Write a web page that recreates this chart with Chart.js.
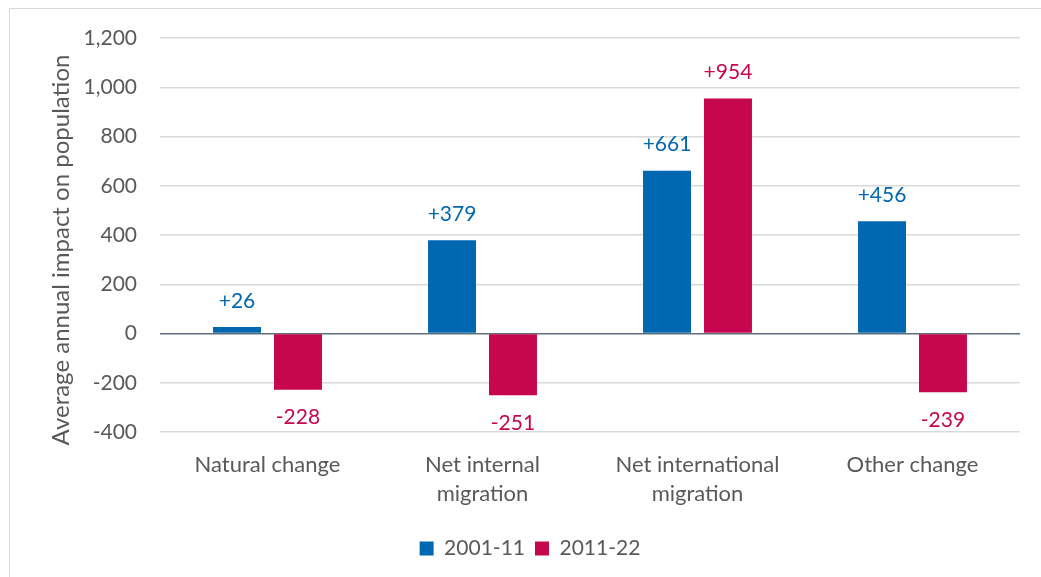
<!DOCTYPE html>
<html>
<head>
<meta charset="utf-8">
<script src="https://cdn.jsdelivr.net/npm/chart.js@4.4.1/dist/chart.umd.min.js"></script>
<style>
  html, body { margin: 0; padding: 0; background: #ffffff; overflow: hidden; }
  #frame { position: absolute; left: 9px; top: 8px; width: 1100px; height: 620px; border: 1px solid #d9d9d9; box-sizing: border-box; }
  #wrap { position: absolute; left: 0; top: 0; width: 1041px; height: 577px; }
</style>
</head>
<body>
<div id="frame"></div>
<div id="wrap"><canvas id="chart" width="1041" height="577"></canvas></div>
<script>
// Components of population change
const categories = [['Natural change'], ['Net internal', 'migration'], ['Net international', 'migration'], ['Other change']];
const series2001_11 = [26, 379, 661, 456];
const series2011_22 = [-228, -251, 954, -239];
const seriesNames = ['2001-11', '2011-22'];
const yTicks = [-400, -200, 0, 200, 400, 600, 800, 1000, 1200];
const yTitle = 'Average annual impact on population';

const BLUE = '#0067b1';
const RED = '#c6074e';
const TEXT = '#595959';
const FONT = 'Lato, "Open Sans", sans-serif';

// Value labels above positive bars and below negative ones
const valueLabels = {
  id: 'valueLabels',
  afterDatasetsDraw(chart) {
    const ctx = chart.ctx;
    ctx.save();
    ctx.font = '21px ' + FONT;
    ctx.textAlign = 'center';
    ctx.textBaseline = 'middle';
    chart.data.datasets.forEach((ds, di) => {
      const meta = chart.getDatasetMeta(di);
      meta.data.forEach((bar, i) => {
        const v = ds.data[i];
        const txt = (v > 0 ? '+' : '') + v;
        ctx.fillStyle = ds.backgroundColor;
        const y = v >= 0 ? bar.y - 26 : bar.y + 28;
        ctx.fillText(txt, bar.x, y);
      });
    });
    ctx.restore();
  }
};

// Rotated value-axis title, and the legend nudged right under the plot
const axisTitle = {
  id: 'axisTitle',
  afterLayout(chart) {
    if (chart.legend) chart.legend.left += 40;
  },
  afterDraw(chart) {
    const ctx = chart.ctx;
    ctx.save();
    ctx.font = '24px ' + FONT;
    ctx.fillStyle = TEXT;
    ctx.textAlign = 'center';
    ctx.textBaseline = 'middle';
    ctx.translate(61, 250);
    ctx.rotate(-Math.PI / 2);
    ctx.fillText(yTitle, 0, 0);
    ctx.restore();
  }
};

new Chart(document.getElementById('chart'), {
  type: 'bar',
  data: {
    labels: categories,
    datasets: [
      { label: seriesNames[0], data: series2001_11, backgroundColor: BLUE },
      { label: seriesNames[1], data: series2011_22, backgroundColor: RED }
    ]
  },
  options: {
    responsive: false,
    animation: false,
    events: [],
    categoryPercentage: 0.567,
    barPercentage: 0.787,
    layout: { padding: { top: 38, right: 21, left: 0, bottom: 8 } },
    plugins: {
      legend: {
        position: 'bottom',
        labels: {
          boxWidth: 14,
          boxHeight: 14,
          padding: 10,
          color: TEXT,
          font: { family: FONT, size: 21 }
        }
      },
      tooltip: { enabled: false }
    },
    scales: {
      x: {
        grid: { display: false },
        border: { display: false },
        ticks: {
          color: TEXT,
          padding: 11,
          font: { family: FONT, size: 22, lineHeight: 1.3 },
          maxRotation: 0
        },
        afterFit(scale) { scale.height = 96; }
      },
      y: {
        min: yTicks[0],
        max: yTicks[yTicks.length - 1],
        afterBuildTicks(scale) { scale.ticks = yTicks.map(v => ({ value: v })); },
        border: { display: false },
        grid: {
          drawTicks: false,
          lineWidth: 1.5,
          color: c => (c.tick && c.tick.value === 0) ? '#5e6e7e' : '#d9d9d9'
        },
        ticks: {
          color: TEXT,
          padding: 23,
          font: { family: FONT, size: 21 },
          callback: v => v.toLocaleString('en-US')
        },
        afterFit(scale) { scale.width = 160; }
      }
    }
  },
  plugins: [valueLabels, axisTitle]
});
</script>
</body>
</html>
